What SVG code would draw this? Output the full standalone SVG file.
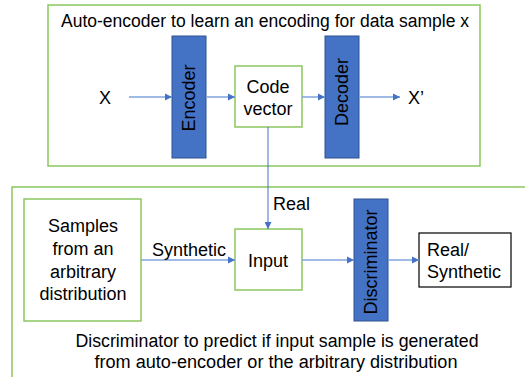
<svg xmlns="http://www.w3.org/2000/svg" width="525" height="377" viewBox="0 0 525 377">
<style>
text{font-family:"Liberation Sans",Arial,sans-serif;font-size:18px;fill:#000}
.g{fill:#fff;stroke:#8CC65E;stroke-width:1.5}
.b{fill:#4472C4;stroke:#2F528F;stroke-width:1}
.k{fill:#fff;stroke:#000;stroke-width:1.2}
.c{stroke:#7FA3DC;stroke-width:1.5;fill:none;marker-end:url(#ah)}
.m{text-anchor:middle}
</style>
<defs>
<marker id="ah" viewBox="0 0 10 10" refX="10" refY="5" markerWidth="5" markerHeight="5" orient="auto" markerUnits="strokeWidth">
<path d="M0,0 L10,5 L0,10 z" fill="#4472C4"/>
</marker>
<marker id="ah2" viewBox="0 0 10 10" refX="10" refY="5" markerWidth="7" markerHeight="7" orient="auto" markerUnits="strokeWidth">
<path d="M0,0 L10,5 L0,10 z" fill="#4472C4"/>
</marker>
</defs>
<rect fill="#fff" width="525" height="377"/>
<g id="autoencoder-box">
<rect class="g" x="48" y="5" width="432" height="161" fill="none"/>
<text x="265" y="27" class="m" textLength="408" lengthAdjust="spacingAndGlyphs">Auto-encoder to learn an encoding for data sample x</text>
</g>
<g id="discriminator-box">
<path d="M12,377 V187 H525" fill="none" stroke="#8CC65E" stroke-width="1.5"/>
<text x="277" y="347" class="m" textLength="403" lengthAdjust="spacingAndGlyphs">Discriminator to predict if input sample is generated</text>
<text x="276" y="368" class="m" textLength="363" lengthAdjust="spacingAndGlyphs">from auto-encoder or the arbitrary distribution</text>
</g>
<g id="x-in"><text x="105" y="104" class="m">X</text></g>
<g id="encoder">
<rect class="b" x="172" y="36" width="34" height="122"/>
<text transform="translate(195,98) rotate(-90)" class="m">Encoder</text>
</g>
<g id="code-vector">
<rect class="g" x="235" y="66" width="67" height="61"/>
<text x="268" y="93" class="m">Code</text>
<text x="268" y="115" class="m">vector</text>
</g>
<g id="decoder">
<rect class="b" x="325" y="36" width="34" height="122"/>
<text transform="translate(348,92) rotate(-90)" class="m">Decoder</text>
</g>
<g id="x-out"><text x="408" y="104">X’</text></g>
<g id="samples">
<rect class="g" x="24" y="199" width="117" height="122"/>
<text x="83" y="232" class="m">Samples</text>
<text x="83" y="255" class="m">from an</text>
<text x="83" y="278" class="m">arbitrary</text>
<text x="83" y="300" class="m">distribution</text>
</g>
<g id="input">
<rect class="g" x="235" y="229" width="67" height="61"/>
<text x="268" y="267" class="m">Input</text>
</g>
<g id="discriminator">
<rect class="b" x="354" y="199" width="34" height="122"/>
<text transform="translate(377,262) rotate(-90)" class="m">Discriminator</text>
</g>
<g id="output">
<rect class="k" x="419" y="233" width="92" height="54"/>
<text x="427" y="256">Real/</text>
<text x="427" y="278">Synthetic</text>
</g>
<g id="connectors">
<line class="c" x1="129" y1="97" x2="172" y2="97"/>
<line class="c" x1="207" y1="97" x2="235" y2="97"/>
<line class="c" x1="302" y1="97" x2="325" y2="97"/>
<line class="c" x1="359" y1="97" x2="400" y2="97"/>
<path d="M268,127 V229" stroke="#4472C4" stroke-width="1" fill="none" marker-end="url(#ah2)"/>
<line class="c" x1="141" y1="260" x2="235" y2="260"/>
<line class="c" x1="302" y1="260" x2="354" y2="260"/>
<line class="c" x1="388" y1="260" x2="419" y2="260"/>
<text x="273" y="210">Real</text>
<text x="189" y="256" class="m">Synthetic</text>
</g>
</svg>
